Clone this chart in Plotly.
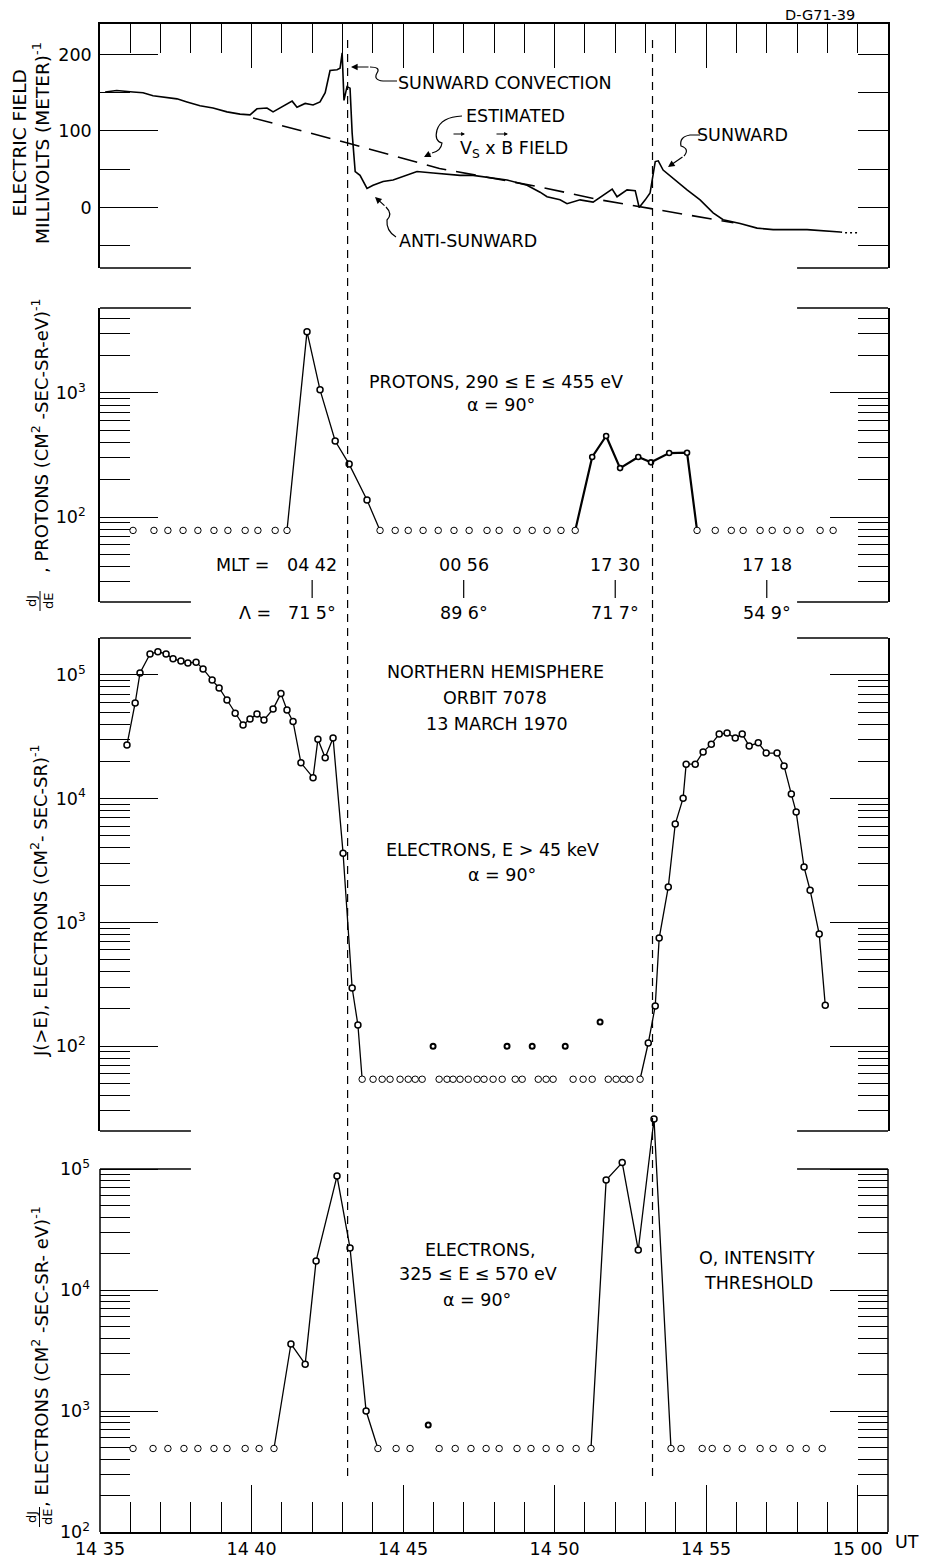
import plotly.graph_objects as go

W, H = 925, 1559
FONT = "DejaVu Sans"

# ---------------- data (time = minutes after 14:35 UT) ----------------
X_RANGE = [0, 26.0]
X_TICK_VALS = [0, 5, 10, 15, 20, 25]
X_TICK_TEXT = ["14 35", "14 40", "14 45", "14 50", "14 55", "15 00"]
X_MINOR_TICKS = [1, 2, 3, 4, 6, 7, 8, 9, 11, 12, 13, 14, 16, 17, 18, 19, 21, 22, 23, 24]

# Panel 1: electric field, millivolts per meter
EF_T = [0.17, 0.55, 1.09, 1.42, 1.75, 2.08, 2.54, 2.87, 3.30, 3.73, 4.19, 4.62, 4.95, 5.18,
        5.51, 5.71, 6.04, 6.34, 6.50, 6.77, 7.03, 7.26, 7.43, 7.59, 7.82, 7.92, 7.99, 8.05,
        8.15, 8.25, 8.32, 8.42, 8.58, 8.81, 9.01, 9.34, 9.67, 10.13, 10.46, 10.99, 11.88,
        12.31, 13.43, 14.09, 14.52, 14.75, 15.18, 15.41, 15.84, 16.27, 16.73, 16.90, 17.06,
        17.39, 17.66, 17.79, 17.99, 18.15, 18.32, 18.42, 18.58, 18.91, 19.37, 19.80, 20.23,
        20.56, 21.12, 21.68, 22.21, 23.33, 24.42]
EF_V = [151, 153, 151, 150, 146, 144, 142, 138, 133, 130, 125, 122, 121, 129,
        130, 125, 132, 139, 131, 136, 134, 138, 150, 179, 180, 182, 202, 140,
        158, 156, 97, 47, 42, 25, 29, 34, 36, 42, 47, 45, 42,
        42, 36, 29, 20, 14, 10, 5, 10, 7, 19, 24, 14,
        23, 22, 0, 10, 19, 60, 61, 49, 38, 23, 10, -7,
        -16, -21, -27, -29, -29, -32]
EF_TAIL_T = [24.42, 24.6, 25.0]
EF_TAIL_V = [-32, -33, -33]
VXB_T = [5.05, 8.2, 11.2, 14.5, 16.5, 20.9]
VXB_V = [117, 84, 51, 27, 10, -20]
EF_RANGE = [-79.1, 240.5]
EF_TICK_VALS = [200, 100, 0]
EF_TICK_TEXT = ["200", "100", "0"]
EF_MINOR = [150, 50, -50]

# Panel 2: protons 290-455 eV
P_THR_T = [1.09, 1.78, 2.24, 2.74, 3.23, 3.76, 4.22, 4.79, 5.21, 5.78, 6.17, 9.24, 9.74,
           10.17, 10.66, 11.16, 11.68, 12.18, 12.77, 13.17, 13.76, 14.26, 14.75, 15.21,
           15.68, 19.70, 20.30, 20.83, 21.22, 21.78, 22.18, 22.67, 23.10, 23.76, 24.19]
P_THR_V = [78, 78, 78, 78, 78, 78, 78, 78, 78, 78, 78, 78, 78,
           78, 78, 78, 78, 78, 78, 78, 78, 78, 78, 78,
           78, 78, 78, 78, 78, 78, 78, 78, 78, 78, 78]
P_L1_T = [6.17, 6.83, 7.26, 7.76, 8.22, 8.81, 9.24]
P_L1_V = [78, 3120, 1060, 410, 267, 137, 78]
P_L2_T = [15.68, 16.24, 16.70, 17.16, 17.76, 18.18, 18.78, 19.37, 19.70]
P_L2_V = [78, 305, 450, 248, 305, 276, 328, 330, 78]
P_LOG_RANGE = [1.315, 3.685]
P_TICK_VALS = [100, 1000]
P_TICK_TEXT = ["10<sup>2</sup>", "10<sup>3</sup>"]

# Orbit labels
MLT_T = [7.0, 12.0, 17.0, 22.0]
MLT_TEXT = ["04 42", "00 56", "17 30", "17 18"]
LAT_TEXT = ["71 5°", "89 6°", "71 7°", "54 9°"]
EVENT_T = [8.17, 18.23]

# Panel 3: electrons E > 45 keV
E1_L1_T = [0.89, 1.16, 1.32, 1.65, 1.91, 2.18, 2.41, 2.67, 2.90, 3.17, 3.40, 3.70, 3.93,
           4.19, 4.46, 4.72, 4.95, 5.18, 5.41, 5.71, 5.97, 6.17, 6.37, 6.63, 7.03, 7.19,
           7.43, 7.69, 8.02, 8.32, 8.51, 8.65]
E1_L1_V = [27200, 59400, 104000, 148000, 154000, 148000, 135000, 130000, 125000, 127000,
           112000, 91000, 78500, 62800, 49000, 39400, 44000, 48400, 43300, 53000, 70700,
           52100, 42000, 19500, 14800, 30200, 21400, 31000, 3630, 295, 148, 54]
E1_L2_T = [17.82, 18.09, 18.32, 18.45, 18.75, 18.98, 19.24, 19.34, 19.64, 19.90, 20.17,
           20.43, 20.69, 20.96, 21.19, 21.42, 21.72, 21.98, 22.34, 22.57, 22.81, 22.97,
           23.23, 23.43, 23.73, 23.93]
E1_L2_V = [54, 106, 211, 748, 1930, 6240, 10100, 19000, 19000, 23900, 27600, 33300, 33900,
           30900, 33300, 26700, 28300, 23400, 23400, 18400, 10900, 7800, 2800, 1820, 805, 214]
E1_THR_T = [8.65, 9.01, 9.31, 9.57, 9.90, 10.17, 10.40, 10.63, 11.19, 11.45, 11.65, 11.88,
            12.15, 12.44, 12.67, 12.97, 13.27, 13.70, 13.93, 14.46, 14.72, 14.95, 15.61,
            15.94, 16.24, 16.77, 17.03, 17.26, 17.49, 17.82]
E1_THR_V = [54, 54, 54, 54, 54, 54, 54, 54, 54, 54, 54, 54,
            54, 54, 54, 54, 54, 54, 54, 54, 54, 54, 54,
            54, 54, 54, 54, 54, 54, 54]
E1_DOT_T = [10.99, 13.43, 14.26, 15.35, 16.50]
E1_DOT_V = [100, 100, 100, 100, 157]
E1_LOG_RANGE = [1.314, 5.299]

# Panel 4: electrons 325-570 eV
E2_L1_T = [5.74, 6.30, 6.77, 7.13, 7.82, 8.25, 8.78, 9.17]
E2_L1_V = [490, 3580, 2440, 17400, 87500, 22200, 1000, 490]
E2_L2_T = [16.20, 16.70, 17.23, 17.76, 18.28, 18.84]
E2_L2_V = [490, 81000, 113000, 21400, 259000, 490]
E2_THR_T = [1.09, 1.75, 2.24, 2.77, 3.23, 3.76, 4.19, 4.79, 5.25, 5.74, 9.17, 9.77, 10.23,
            11.19, 11.72, 12.24, 12.74, 13.17, 13.76, 14.22, 14.72, 15.18, 15.71, 16.20,
            18.84, 19.17, 19.87, 20.20, 20.69, 21.19, 21.78, 22.21, 22.77, 23.30, 23.83]
E2_THR_V = [490, 490, 490, 490, 490, 490, 490, 490, 490, 490, 490, 490, 490,
            490, 490, 490, 490, 490, 490, 490, 490, 490, 490, 490,
            490, 490, 490, 490, 490, 490, 490, 490, 490, 490, 490]
E2_DOT_T = [10.83]
E2_DOT_V = [766]
E2_LOG_RANGE = [2.0, 5.463]

LOG_TICK_VALS = [100, 1000, 10000, 100000]
LOG_TICK_TEXT = ["10<sup>2</sup>", "10<sup>3</sup>", "10<sup>4</sup>", "10<sup>5</sup>"]


# ---------------- layout helpers (pixel -> paper) ----------------
def fx(px):
    return px / W


def fy(py):
    return 1 - py / H


def minor_log(decades, mults):
    return [m * 10 ** d for d in decades for m in mults]


X_DOM = [fx(100), fx(888)]
Y1_DOM = [fy(268), fy(23.5)]
Y2_DOM = [fy(602), fy(308)]
Y3_DOM = [fy(1131), fy(638)]
Y4_DOM = [fy(1532), fy(1113)]

fig = go.Figure()


def add_line(x, y, xa, ya, width=1.3, dash=None):
    fig.add_trace(go.Scatter(x=x, y=y, xaxis=xa, yaxis=ya, mode="lines",
                             line=dict(color="black", width=width, dash=dash),
                             hoverinfo="skip"))


def add_pts(x, y, xa, ya, size=6, lw=1.3):
    fig.add_trace(go.Scatter(x=x, y=y, xaxis=xa, yaxis=ya, mode="markers",
                             marker=dict(symbol="circle", size=size, color="white",
                                         line=dict(color="black", width=lw)),
                             hoverinfo="skip"))


# panel 1
add_line(VXB_T, VXB_V, "x", "y", 1.6, "20px,10px")
add_line(EF_T, EF_V, "x", "y", 1.6)
add_line(EF_TAIL_T, EF_TAIL_V, "x", "y", 1.4, "2px,3px")
# empty trace that carries the right-hand tick axis of panel 1
fig.add_trace(go.Scatter(x=[], y=[], xaxis="x", yaxis="y5", mode="lines", hoverinfo="skip"))
# panel 2
add_line(P_L1_T, P_L1_V, "x2", "y2", 1.3)
add_line(P_L2_T, P_L2_V, "x2", "y2", 2.2)
add_pts(P_L1_T[1:-1], P_L1_V[1:-1], "x2", "y2", 6, 1.5)
add_pts(P_L2_T[1:-1], P_L2_V[1:-1], "x2", "y2", 5, 1.6)
add_pts(P_THR_T, P_THR_V, "x2", "y2", 6.5, 1.0)
# panel 3
add_line(E1_L1_T, E1_L1_V, "x3", "y3", 1.3)
add_line(E1_L2_T, E1_L2_V, "x3", "y3", 1.3)
add_pts(E1_L1_T[:-1], E1_L1_V[:-1], "x3", "y3", 6, 1.5)
add_pts(E1_L2_T[1:], E1_L2_V[1:], "x3", "y3", 6, 1.5)
add_pts(E1_THR_T, E1_THR_V, "x3", "y3", 6.5, 1.0)
add_pts(E1_DOT_T, E1_DOT_V, "x3", "y3", 5, 2.0)
# panel 4
add_line(E2_L1_T, E2_L1_V, "x4", "y4", 1.3)
add_line(E2_L2_T, E2_L2_V, "x4", "y4", 1.3)
add_pts(E2_L1_T[1:-1], E2_L1_V[1:-1], "x4", "y4", 6, 1.5)
add_pts(E2_L2_T[1:-1], E2_L2_V[1:-1], "x4", "y4", 6, 1.5)
add_pts(E2_THR_T, E2_THR_V, "x4", "y4", 6.5, 1.0)
add_pts(E2_DOT_T, E2_DOT_V, "x4", "y4", 5, 2.0)

TICKFONT = dict(family=FONT, size=17.5, color="black")
BASE = dict(showgrid=False, zeroline=False, color="black")


def ymajor(**kw):
    d = dict(BASE, ticks="inside", ticklen=58, tickwidth=1.2, tickcolor="black",
             tickfont=TICKFONT, tickmode="array", mirror="ticks",
             linecolor="black", linewidth=1.5)
    d.update(kw)
    return d


def yminor(vals):
    return dict(tickmode="array", tickvals=vals, ticks="inside", ticklen=30,
                tickwidth=1.1, tickcolor="black", showgrid=False)


fig.update_layout(
    width=W, height=H, margin=dict(l=0, r=0, t=0, b=0, autoexpand=False),
    paper_bgcolor="white", plot_bgcolor="rgba(0,0,0,0)", showlegend=False,
    font=dict(family=FONT, size=17.5, color="black"),
    xaxis=dict(BASE, domain=X_DOM, range=X_RANGE, anchor="y", side="top", showline=True,
               linecolor="black", linewidth=1.5, ticks="inside", tickmode="array",
               tickvals=X_TICK_VALS[1:5], ticklen=45, tickwidth=1.2, tickcolor="black",
               showticklabels=False,
               minor=dict(tickmode="array", tickvals=X_MINOR_TICKS + [25], ticks="inside",
                          ticklen=30, tickwidth=1.2, tickcolor="black", showgrid=False)),
    xaxis2=dict(BASE, domain=X_DOM, range=X_RANGE, anchor="y2", visible=False),
    xaxis3=dict(BASE, domain=X_DOM, range=X_RANGE, anchor="y3", visible=False),
    xaxis4=dict(BASE, domain=X_DOM, range=X_RANGE, anchor="y4", side="bottom", showline=True,
                linecolor="black", linewidth=1.5, ticks="inside", tickmode="array",
                tickvals=X_TICK_VALS, ticktext=X_TICK_TEXT, ticklen=47, tickwidth=1.2,
                tickcolor="black", tickfont=TICKFONT,
                minor=dict(tickmode="array", tickvals=X_MINOR_TICKS, ticks="inside",
                           ticklen=30, tickwidth=1.2, tickcolor="black", showgrid=False)),
    yaxis=ymajor(domain=Y1_DOM, range=EF_RANGE, anchor="x", showline=True, mirror=True,
                 tickvals=EF_TICK_VALS, ticktext=EF_TICK_TEXT, ticklabelstandoff=3,
                 minor=yminor(EF_MINOR)),
    yaxis5=dict(BASE, overlaying="y", side="right", anchor="x", range=EF_RANGE,
                showline=False, ticks="inside", tickmode="array",
                tickvals=EF_TICK_VALS + EF_MINOR, ticklen=30, tickwidth=1.2,
                tickcolor="black", showticklabels=False),
    yaxis2=ymajor(domain=Y2_DOM, range=P_LOG_RANGE, type="log", anchor="x2", showline=True,
                  tickvals=P_TICK_VALS, ticktext=P_TICK_TEXT, ticklabelstandoff=9,
                  minor=yminor(minor_log([1], [3, 4, 5, 6, 7, 8, 9])
                               + minor_log([2], [2, 3, 4, 5, 6, 7, 8, 9])
                               + minor_log([3], [2, 3, 4]))),
    yaxis3=ymajor(domain=Y3_DOM, range=E1_LOG_RANGE, type="log", anchor="x3", showline=True,
                  tickvals=LOG_TICK_VALS, ticktext=LOG_TICK_TEXT, ticklabelstandoff=9,
                  minor=yminor(minor_log([1], [3, 4, 5, 6, 7, 8, 9])
                               + minor_log([2, 3, 4], [2, 3, 4, 5, 6, 7, 8, 9]))),
    yaxis4=ymajor(domain=Y4_DOM, range=E2_LOG_RANGE, type="log", anchor="x4", showline=False,
                  tickvals=LOG_TICK_VALS, ticktext=LOG_TICK_TEXT, ticklabelstandoff=9,
                  minor=yminor(minor_log([2, 3, 4], [2, 3, 4, 5, 6, 7, 8, 9]))),
)

# ---------------- frame pieces, event lines, leaders ----------------
shapes = []
LINE = dict(color="black", width=1.5)
STUB_LEFT = (0.0, 3.0)
STUB_RIGHT = (23.0, 26.0)
for py in [268, 308, 602, 638, 1131, 1169]:
    for a, b in (STUB_LEFT, STUB_RIGHT):
        shapes.append(dict(type="line", xref="x", yref="paper", x0=a, x1=b,
                           y0=fy(py), y1=fy(py), line=LINE))
for px in (100, 888):
    shapes.append(dict(type="line", xref="paper", yref="paper", x0=fx(px), x1=fx(px),
                       y0=fy(1169), y1=fy(1532), line=LINE))
for t in EVENT_T:
    shapes.append(dict(type="line", xref="x", yref="paper", x0=t, x1=t,
                       y0=fy(40), y1=fy(1482),
                       line=dict(color="black", width=1.2, dash="8px,6px")))
for t in MLT_T:
    shapes.append(dict(type="line", xref="x", yref="paper", x0=t, x1=t,
                       y0=fy(580), y1=fy(598), line=dict(color="black", width=1.2)))


def ppath(cmds):
    parts = []
    for c, pts in cmds:
        parts.append(c + " " + " ".join(f"{fx(x):.5f},{fy(y):.5f}" for x, y in pts))
    return " ".join(parts)


LEADERS = [
    [("M", [(397, 81)]), ("L", [(383, 81)]), ("Q", [(373, 80), (377, 73)]),
     ("Q", [(381, 67), (370, 67)])],
    [("M", [(462, 116)]), ("Q", [(441, 117), (437, 130)]), ("Q", [(434, 141), (442, 143)]),
     ("Q", [(441, 151), (432, 153)])],
    [("M", [(700, 135)]), ("L", [(690, 135)]), ("Q", [(679, 137), (681, 146)]),
     ("Q", [(690, 149), (684, 156)])],
    [("M", [(396, 237)]), ("Q", [(386, 231), (387, 220)]), ("Q", [(393, 214), (386, 207)])],
]
for cmds in LEADERS:
    shapes.append(dict(type="path", xref="paper", yref="paper", path=ppath(cmds),
                       line=dict(color="black", width=1.2)))
# fraction bars of dJ/dE
shapes.append(dict(type="line", xref="paper", yref="paper", x0=fx(40), x1=fx(40),
                   y0=fy(591), y1=fy(611), line=dict(color="black", width=1)))
shapes.append(dict(type="line", xref="paper", yref="paper", x0=fx(39.5), x1=fx(39.5),
                   y0=fy(1507), y1=fy(1527), line=dict(color="black", width=1)))

anns = []


def txt(s, x, y, size=17.5, angle=0, xref="paper", xval=None):
    anns.append(dict(text=s, x=(fx(x) if xval is None else xval), y=fy(y), xref=xref,
                     yref="paper", showarrow=False, textangle=angle,
                     font=dict(family=FONT, size=size, color="black"),
                     xanchor="center", yanchor="middle"))


def arrow(head, tail, size=1.1, width=1.2):
    anns.append(dict(text="", x=fx(head[0]), y=fy(head[1]), xref="paper", yref="paper",
                     ax=tail[0] - head[0], ay=tail[1] - head[1], axref="pixel",
                     ayref="pixel", showarrow=True, arrowhead=2, arrowsize=size,
                     arrowwidth=width, arrowcolor="black", standoff=0))


txt("D-G71-39", 820, 15, 14.5)
txt("SUNWARD CONVECTION", 505, 83)
txt("ESTIMATED", 515, 116)
txt("V<sub>S</sub> x B FIELD", 514, 149)
arrow((465, 134), (452, 134), 0.7, 1.1)
arrow((508, 134), (495, 134), 0.7, 1.1)
txt("SUNWARD", 742, 135)
txt("ANTI-SUNWARD", 468, 241)
arrow((351, 67), (370, 67))
arrow((424, 157), (432, 153))
arrow((668, 167), (684, 156))
arrow((375, 197), (386, 207))

txt("PROTONS, 290 ≤ E ≤ 455 eV", 496, 382)
txt("α = 90°", 501, 405)
txt("MLT =", 243, 565)
txt("Λ =", 255, 613)
for t, m, l in zip(MLT_T, MLT_TEXT, LAT_TEXT):
    txt(m, 0, 565, xref="x", xval=t)
    txt(l, 0, 613, xref="x", xval=t)

txt("NORTHERN HEMISPHERE", 495, 672)
txt("ORBIT 7078", 495, 698)
txt("13 MARCH 1970", 497, 724)
txt("ELECTRONS, E > 45 keV", 492, 850)
txt("α = 90°", 502, 875)

txt("ELECTRONS,", 480, 1250)
txt("325 ≤ E ≤ 570 eV", 478, 1274)
txt("α = 90°", 477, 1300)
txt("O, INTENSITY", 757, 1258)
txt("THRESHOLD", 758, 1283)
txt("UT", 907, 1542)

# axis titles
txt("ELECTRIC FIELD", 18.5, 143, 18.5, -90)
txt("MILLIVOLTS (METER)<sup>-1</sup>", 41, 143, 18.5, -90)
txt(", PROTONS (CM<sup>2</sup> -SEC-SR-eV)<sup>-1</sup>", 40, 436, 18, -90)
txt("dJ", 31, 601, 13, -90)
txt("dE", 48, 601, 13, -90)
txt("J(>E), ELECTRONS (CM<sup>2</sup>- SEC-SR)<sup>-1</sup>", 39, 901, 18, -90)
txt(", ELECTRONS (CM<sup>2</sup> -SEC-SR- eV)<sup>-1</sup>", 40, 1357, 18, -90)
txt("dJ", 31, 1517, 13, -90)
txt("dE", 47, 1517, 13, -90)

fig.update_layout(shapes=shapes, annotations=anns)
fig.write_html("out.html", config={"displayModeBar": False})
